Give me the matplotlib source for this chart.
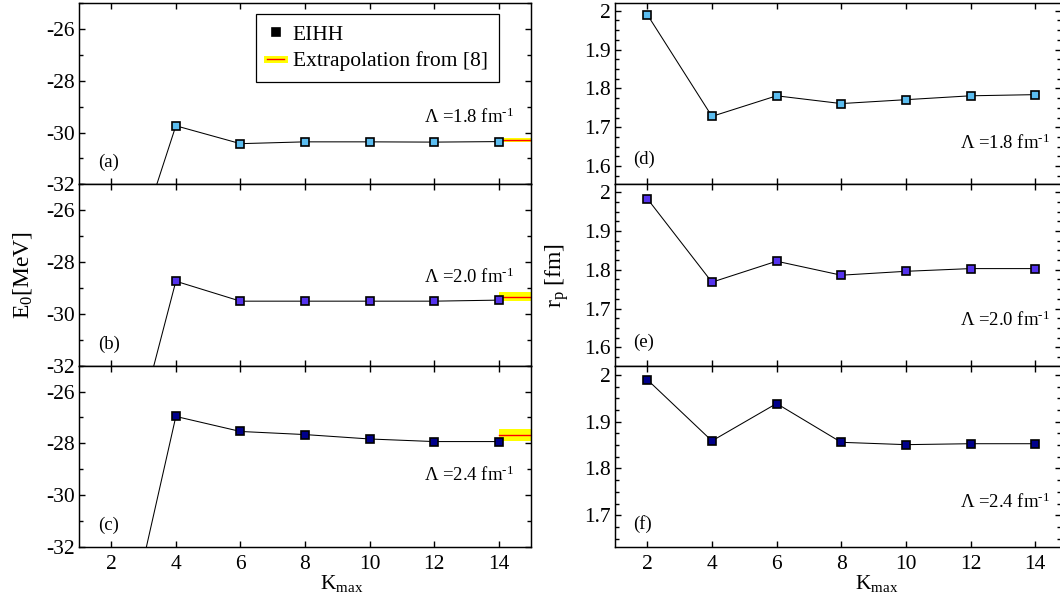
import matplotlib
matplotlib.use('Agg')
import matplotlib.pyplot as plt
from matplotlib.ticker import MultipleLocator, FormatStrFormatter, NullLocator
from matplotlib.lines import Line2D

plt.rcParams['font.family'] = ['Liberation Serif', 'DejaVu Serif']
plt.rcParams['mathtext.fontset'] = 'custom'
plt.rcParams['mathtext.rm'] = 'Liberation Serif'
plt.rcParams['mathtext.it'] = 'Liberation Serif:italic'
plt.rcParams['axes.unicode_minus'] = False

# ---------------- data ----------------
K = [2, 4, 6, 8, 10, 12, 14]
E_18 = [-37.4, -29.74, -30.43, -30.36, -30.36, -30.37, -30.35]
E_20 = [-38.3, -28.74, -29.51, -29.51, -29.51, -29.51, -29.47]
E_24 = [-38.0, -26.96, -27.54, -27.66, -27.83, -27.93, -27.93]
R_18 = [1.990, 1.728, 1.781, 1.761, 1.771, 1.781, 1.784]
R_20 = [1.983, 1.768, 1.822, 1.786, 1.796, 1.803, 1.803]
R_24 = [1.990, 1.859, 1.939, 1.856, 1.851, 1.853, 1.853]
extrap_E = [-30.29, -29.33, -27.67]
extrap_err = [0.08, 0.17, 0.24]
lambdas = ['1.8', '2.0', '2.4']
panel_left = ['(a)', '(b)', '(c)']
panel_right = ['(d)', '(e)', '(f)']
colors = ['#5bbdf0', '#5533ee', '#00008c']

E_all = [E_18, E_20, E_24]
R_all = [R_18, R_20, R_24]

W, H = 1060, 599
fig = plt.figure(figsize=(W / 100, H / 100), dpi=100)

top_px, bot_px = 3, 547
row_h = (bot_px - top_px) / 3.0

TICK_FS = 15.5
LAM_FS = 13.5
PAN_FS = 13.5


def fx(px):
    return px / W


def fy(py):
    return 1 - py / H


def style_axes(ax):
    ax.tick_params(which='both', direction='in', top=True, right=True,
                   labelsize=TICK_FS, width=1.0)
    ax.tick_params(which='major', length=4.5)
    ax.tick_params(which='minor', length=2.6)
    ax.tick_params(axis='x', pad=6)
    ax.tick_params(axis='y', pad=3)
    for s in ax.spines.values():
        s.set_linewidth(1.05)
    ax.xaxis.set_major_locator(MultipleLocator(2))
    ax.xaxis.set_minor_locator(NullLocator())


left_axes = []
right_axes = []
for i in range(3):
    y0 = top_px + i * row_h
    y1 = y0 + row_h
    axl = fig.add_axes([fx(79), fy(y1), fx(531) - fx(79), fy(y0) - fy(y1)])
    axr = fig.add_axes([fx(615), fy(y1), fx(1061) - fx(615), fy(y0) - fy(y1)])
    left_axes.append(axl)
    right_axes.append(axr)

sup = r' fm$^{\text{-1}}$'

lam_pos_left = [0.337, 0.456, 0.362]
for i, ax in enumerate(left_axes):
    style_axes(ax)
    ax.set_xlim(1, 15)
    ax.set_ylim(-32, -25)
    ax.yaxis.set_major_locator(MultipleLocator(2))
    ax.yaxis.set_minor_locator(MultipleLocator(1))
    ax.yaxis.set_major_formatter(FormatStrFormatter('%g'))
    c = extrap_E[i]
    e = extrap_err[i]
    ax.fill_between([K[-1], 15], [c - e, c - e], [c + e, c + e],
                    color='#ffff00', lw=0, zorder=1)
    ax.plot([K[-1], 15], [c, c], color='red', lw=1.0, zorder=1.5)
    ax.plot(K, E_all[i], color='black', lw=0.75, marker='s', ms=6,
            mfc=colors[i], mec='black', mew=1.2, zorder=3)
    ax.text(0.042, 0.12, panel_left[i], transform=ax.transAxes,
            fontsize=PAN_FS, va='center', ha='left')
    ax.text(0.963, lam_pos_left[i], r'$\Lambda$ =' + lambdas[i] + sup,
            transform=ax.transAxes, fontsize=LAM_FS, ha='right', va='baseline')
    if i < 2:
        ax.tick_params(labelbottom=False)

lam_pos_right = [0.195, 0.218, 0.213]
txt_pos_right = [0.14, 0.13, 0.127]
for i, ax in enumerate(right_axes):
    style_axes(ax)
    ax.set_xlim(1, 14.8)
    if i < 2:
        ax.set_ylim(1.553, 2.02)
    else:
        ax.set_ylim(1.632, 2.02)
    ax.yaxis.set_major_locator(MultipleLocator(0.1))
    ax.yaxis.set_minor_locator(MultipleLocator(0.025))
    ax.yaxis.set_major_formatter(FormatStrFormatter('%g'))
    ax.plot(K, R_all[i], color='black', lw=0.75, marker='s', ms=6,
            mfc=colors[i], mec='black', mew=1.2, zorder=3)
    ax.text(0.975, lam_pos_right[i], r'$\Lambda$ =' + lambdas[i] + sup,
            transform=ax.transAxes, fontsize=LAM_FS, ha='right', va='baseline')
    ax.text(0.04, txt_pos_right[i], panel_right[i], transform=ax.transAxes,
            fontsize=PAN_FS, va='center', ha='left')
    if i < 2:
        ax.tick_params(labelbottom=False)

# legend in panel (a)
handles = [Line2D([], [], marker='s', color='black', ls='none', ms=6,
                  mec='black', mew=1.2),
           (Line2D([], [], color='#ffff00', lw=5),
            Line2D([], [], color='red', lw=1.0))]
labels = ['EIHH', 'Extrapolation from [8]']
leg = left_axes[0].legend(handles, labels, loc='upper left',
                          bbox_to_anchor=(0.392, 0.94), fontsize=15.5,
                          frameon=True, fancybox=False, edgecolor='black',
                          framealpha=1, handlelength=0.8, handletextpad=0.4,
                          borderpad=0.5, labelspacing=0.3, borderaxespad=0)
leg.get_frame().set_linewidth(0.9)

# axis labels
fig.text(fx(22), fy(275), r'E$_0$[MeV]', rotation=90, fontsize=17,
         ha='center', va='center')
fig.text(fx(557), fy(275), r'r$_{\rm p}$ [fm]', rotation=90, fontsize=17,
         ha='center', va='center')
fig.text(fx(342), fy(589), r'K$_{\rm max}$', fontsize=15.5, ha='center',
         va='baseline')
fig.text(fx(877), fy(589), r'K$_{\rm max}$', fontsize=15.5, ha='center',
         va='baseline')

fig.savefig('out.png', dpi=100)
